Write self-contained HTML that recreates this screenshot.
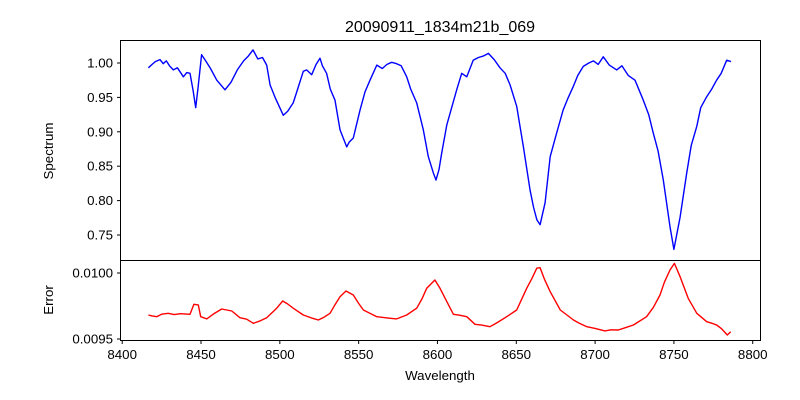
<!DOCTYPE html>
<html><head><meta charset="utf-8"><style>
body{margin:0;background:#fff}
svg{display:block;font-family:"Liberation Sans",sans-serif}
</style></head><body>
<svg id="chart" width="800" height="400" viewBox="0 0 800 400">
<rect width="800" height="400" fill="#fff"/>
<text x="440" y="32" font-size="16" text-anchor="middle">20090911_1834m21b_069</text>
<g id="gtop"></g>
<g id="gbot"></g>
<g id="xax"></g>
<text x="440" y="380" font-size="13.3" text-anchor="middle">Wavelength</text>
<text transform="translate(53,151) rotate(-90)" font-size="13.3" text-anchor="middle">Spectrum</text>
<text transform="translate(53,300) rotate(-90)" font-size="13.3" text-anchor="middle">Error</text>
</svg>
<script>
const specWave=[8416.6,8419,8421,8424.0,8426,8428,8430,8432.4,8435,8438.8,8441,8443.0,8445,8446.6,8448,8450.4,8453,8456,8460,8465.2,8469,8473,8477,8480,8483.0,8486,8489,8491.7,8493.8,8497,8502.2,8505,8508.5,8511,8514.9,8517,8520.2,8523,8525.5,8527,8529.7,8532,8535.0,8538.2,8542.4,8544,8546.6,8550.9,8554,8557.2,8561.5,8565,8568,8571,8574.1,8577,8580.5,8583,8586.8,8591.0,8594.2,8597.4,8599.1,8601,8602.7,8605.9,8608.0,8612.2,8615.4,8618.6,8622.7,8626,8629,8632.3,8636,8639.7,8643,8646.1,8650.3,8654.5,8658.8,8661,8663.1,8665.1,8668.3,8671.5,8675.6,8679.8,8683,8686.2,8689,8692.5,8696,8699,8702,8705.2,8709,8713.7,8717,8721,8725.3,8730.6,8734,8736.9,8740,8743.3,8747.5,8750.0,8753.9,8758.1,8761,8764.5,8767,8770.8,8774,8777.1,8780,8783.5,8786.2];
const specVal=[0.993,0.998,1.002,1.005,0.999,1.003,0.996,0.990,0.993,0.980,0.986,0.985,0.960,0.935,0.962,1.012,1.003,0.992,0.975,0.961,0.972,0.990,1.003,1.010,1.019,1.006,1.008,0.997,0.968,0.950,0.924,0.930,0.942,0.960,0.988,0.990,0.983,0.998,1.007,0.996,0.985,0.962,0.946,0.903,0.878,0.885,0.891,0.932,0.958,0.975,0.997,0.992,0.998,1.001,0.999,0.996,0.980,0.962,0.942,0.903,0.864,0.840,0.830,0.845,0.869,0.910,0.927,0.961,0.985,0.980,1.004,1.008,1.010,1.014,1.005,0.993,0.985,0.968,0.937,0.878,0.815,0.790,0.772,0.765,0.797,0.864,0.898,0.932,0.950,0.966,0.982,0.995,1.000,1.003,0.998,1.009,0.997,0.990,0.996,0.982,0.975,0.946,0.925,0.898,0.872,0.830,0.762,0.729,0.776,0.840,0.880,0.908,0.935,0.951,0.962,0.975,0.985,1.004,1.002];
const errWave=[8416.6,8419,8421.9,8425,8429.2,8433,8437,8443.0,8445.5,8448.3,8449.8,8453.6,8458,8463.1,8469.5,8474.7,8479,8483.2,8487,8491.7,8498.0,8501.8,8505,8508.5,8514.9,8520,8524.4,8528,8531.8,8535,8538.2,8542.0,8546.6,8550,8553.0,8561.5,8568,8574.1,8580.5,8586.8,8590,8593.2,8598.4,8601.6,8605.9,8610.1,8614,8618.6,8623.8,8628,8633.3,8638,8643.9,8650.3,8653,8656.6,8660,8663.0,8665.1,8668,8671.5,8677.9,8686.3,8690,8694.8,8700,8706.3,8710,8714.7,8719,8724.3,8732.7,8737,8741.2,8744,8747.5,8750.3,8753.9,8759.1,8764.5,8770.8,8774,8777.1,8780,8783.9,8786.0];
const errVal=[0.009682,0.009675,0.009669,0.009688,0.009695,0.009685,0.009692,0.009687,0.009763,0.009758,0.009669,0.009652,0.009690,0.009727,0.009712,0.009661,0.009650,0.009619,0.009635,0.009661,0.009733,0.009788,0.009765,0.009733,0.009682,0.009660,0.009644,0.009665,0.009695,0.009760,0.009820,0.009864,0.009833,0.009770,0.009720,0.009669,0.009660,0.009652,0.009682,0.009733,0.009800,0.009884,0.009947,0.009884,0.009783,0.009687,0.009680,0.009669,0.009611,0.009605,0.009593,0.009625,0.009669,0.009720,0.009790,0.009884,0.009960,0.010036,0.010040,0.009950,0.009858,0.009720,0.009644,0.009620,0.009593,0.009580,0.009561,0.009570,0.009568,0.009585,0.009606,0.009669,0.009740,0.009833,0.009930,0.010023,0.010073,0.009972,0.009808,0.009695,0.009631,0.009620,0.009606,0.009580,0.009530,0.009555];
const xTicks=[8400,8450,8500,8550,8600,8650,8700,8750,8800];
const specTicks=[1.00,0.95,0.90,0.85,0.80,0.75];
const errTicks=[0.0100,0.0095];

const NS="http://www.w3.org/2000/svg";
const L=120,R=760;
const xS=w=>122.2+(w-8400)*1.5763;
const yS=v=>63+(1-v)*688;
const yE=v=>273+(0.0100-v)/0.0005*66;
function mk(tag,attrs,parent){const e=document.createElementNS(NS,tag);for(const k in attrs)e.setAttribute(k,attrs[k]);parent.appendChild(e);return e;}
const gTop=document.getElementById('gtop'),gBot=document.getElementById('gbot'),gX=document.getElementById('xax');

const p1=mk('polyline',{points:specWave.map((w,i)=>xS(w).toFixed(1)+','+yS(specVal[i]).toFixed(1)).join(' '),fill:'none',stroke:'#0000ff','stroke-width':1.4,'stroke-linejoin':'round'},gTop);


const p2=mk('polyline',{points:errWave.map((w,i)=>xS(w).toFixed(1)+','+yE(errVal[i]).toFixed(1)).join(' '),fill:'none',stroke:'#ff0000','stroke-width':1.4,'stroke-linejoin':'round'},gBot);



const f1=mk('rect',{x:L+0.5,y:40.5,width:R-L,height:220,fill:'none',stroke:'#000','stroke-width':1},gTop);


const f2=mk('rect',{x:L+0.5,y:260.5,width:R-L,height:80,fill:'none',stroke:'#000','stroke-width':1},gBot);



specTicks.forEach(v=>{const y=yS(v);
 const t=mk('line',{x1:L+0.5,x2:L-3,y1:y,y2:y,stroke:'#000'},gTop);
 
 
 const tx=mk('text',{x:L-7,y:y+4.5,'font-size':13.3,'text-anchor':'end'},gTop);tx.textContent=v.toFixed(2);
 
 });
errTicks.forEach(v=>{const y=yE(v);
 const t=mk('line',{x1:L+0.5,x2:L-3,y1:y,y2:y,stroke:'#000'},gBot);
 
 
 const tx=mk('text',{x:L-7,y:y+4.5,'font-size':13.3,'text-anchor':'end'},gBot);tx.textContent=v.toFixed(4);
 
 });
xTicks.forEach(v=>{const x=xS(v);
 const t=mk('line',{x1:x,x2:x,y1:340.5,y2:344,stroke:'#000'},gX);
 
 
 const tx=mk('text',{x:x,y:359,'font-size':13.3,'text-anchor':'middle'},gX);tx.textContent=v;
 
 });
</script>
</body></html>
